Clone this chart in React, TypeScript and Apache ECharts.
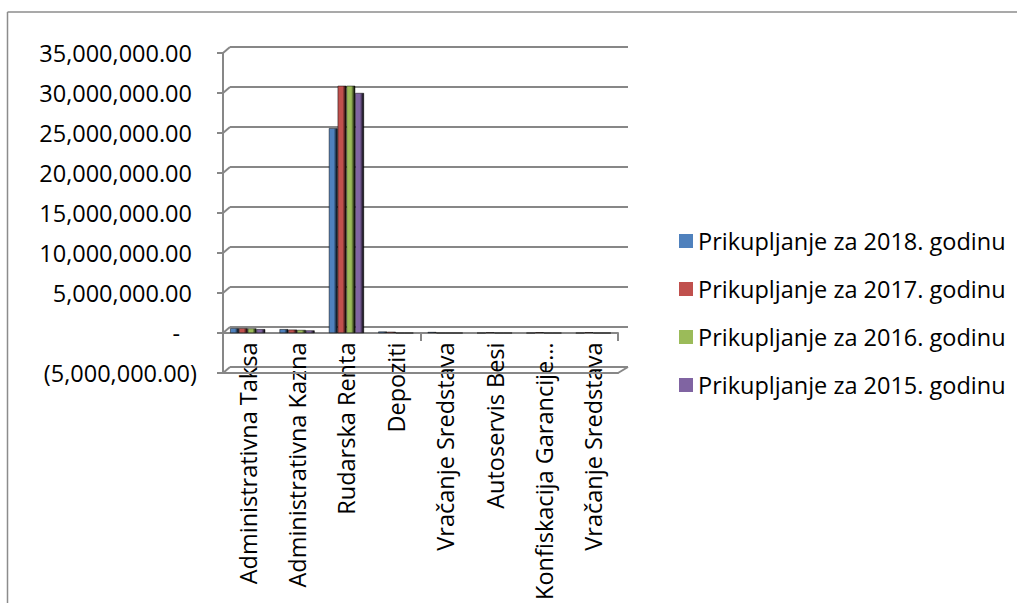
import React, { useEffect, useRef } from "react";
import * as echarts from "echarts";

const categories = [
  "Administrativna Taksa",
  "Administrativna Kazna",
  "Rudarska Renta",
  "Depoziti",
  "Vračanje Sredstava",
  "Autoservis Besi",
  "Konfiskacija Garancije…",
  "Vračanje Sredstava",
];
const seriesNames = [
  "Prikupljanje za 2018. godinu",
  "Prikupljanje za 2017. godinu",
  "Prikupljanje za 2016. godinu",
  "Prikupljanje za 2015. godinu",
];
const s2018 = [600000, 480000, 25600000, 180000, 120000, 0, 0, 0];
const s2017 = [600000, 420000, 30900000, 150000, 0, 80000, 90000, 90000];
const s2016 = [570000, 380000, 30900000, 0, 0, 0, 0, 0];
const s2015 = [480000, 320000, 30000000, 0, 0, 0, 0, 0];
const colors = ["#4F81BD", "#C0504D", "#9BBB59", "#8064A2"];
const yTicks = [-5000000, 0, 5000000, 10000000, 15000000, 20000000, 25000000, 30000000, 35000000];

const FONT = "Open Sans";
const GRID_COLOR = "#878787";
const FS = 23.5;

const FRONT_LEFT = 223;
const FRONT_WIDTH = 395;
const BACK_LEFT = 230;
const BACK_WIDTH = 398;

function fmtLabel(v: number): string {
  if (v === 0) return "{z|-}";
  const s = Math.abs(v).toLocaleString("en-US", { minimumFractionDigits: 2, maximumFractionDigits: 2 });
  return v < 0 ? "{n|(" + s + ")}" : "{p|" + s + "}";
}

export default function App() {
  const ref = useRef<HTMLDivElement>(null);
  useEffect(() => {
    if (!ref.current) return;
    const chart = echarts.init(ref.current, undefined, { renderer: "svg" });
    const data = [s2018, s2017, s2016, s2015];
    const txt = { fontFamily: FONT, fontSize: FS, color: "#000" };
    const option: any = {
      animation: false,
      backgroundColor: "#ffffff",
      textStyle: { fontFamily: FONT },
      grid: [
        { left: FRONT_LEFT, top: 53, width: FRONT_WIDTH, height: 320 },
        { left: BACK_LEFT, top: 47, width: BACK_WIDTH, height: 320 },
        { left: FRONT_LEFT, top: 53, width: FRONT_WIDTH, height: 278 },
      ],
      legend: {
        orient: "vertical",
        left: 674,
        top: 224,
        itemWidth: 14,
        itemHeight: 14,
        itemGap: 24,
        icon: "rect",
        itemStyle: { borderWidth: 0 },
        data: seriesNames.map((n, i) => ({ name: n, itemStyle: { color: colors[i], borderWidth: 0 } })),
        textStyle: { fontFamily: FONT, fontSize: FS, color: "#000", lineHeight: 24, padding: [0, 0, 0, 0] },
      },
      xAxis: [
        {
          type: "category",
          gridIndex: 0,
          data: categories,
          axisLine: { onZero: true, lineStyle: { color: GRID_COLOR, width: 2 } },
          axisTick: { show: true, length: 8, lineStyle: { color: GRID_COLOR, width: 2 } },
          axisLabel: { show: false },
          z: 1,
        },
        {
          type: "category",
          gridIndex: 0,
          position: "bottom",
          data: categories,
          axisLine: { onZero: false, lineStyle: { color: GRID_COLOR, width: 2 } },
          axisTick: { show: false },
          axisLabel: { show: false },
          z: 5,
        },
        {
          type: "category",
          gridIndex: 1,
          data: categories,
          show: false,
        },
        {
          type: "category",
          gridIndex: 2,
          position: "bottom",
          data: categories,
          axisLine: { show: false, onZero: false },
          axisTick: { show: false },
          axisLabel: {
            rotate: 90,
            interval: 0,
            margin: 14,
            ...txt,
          },
          z: 0,
        },
      ],
      yAxis: [
        {
          type: "value",
          gridIndex: 0,
          min: -5000000,
          max: 35000000,
          interval: 5000000,
          axisLine: { show: true, lineStyle: { color: GRID_COLOR, width: 2 } },
          axisTick: { show: true, length: 6, lineStyle: { color: GRID_COLOR, width: 2 } },
          splitLine: { show: false },
          axisLabel: {
            margin: 26,
            ...txt,
            formatter: fmtLabel,
            rich: {
              p: { ...txt, padding: [0, 5, 0, 0] },
              n: { ...txt },
              z: { ...txt, padding: [0, 17, 0, 0] },
            },
          },
        },
        {
          type: "value",
          gridIndex: 1,
          min: -5000000,
          max: 35000000,
          interval: 5000000,
          axisLine: { show: false },
          axisTick: { show: false },
          axisLabel: { show: false },
          splitLine: { show: true, lineStyle: { color: GRID_COLOR, width: 2 } },
        },
        {
          type: "value",
          gridIndex: 2,
          min: 0,
          max: 35000000,
          show: false,
        },
      ],
      series: seriesNames.map((name, i) => ({
        name,
        type: "bar",
        xAxisIndex: 0,
        yAxisIndex: 0,
        data: data[i],
        barGap: "0%",
        barCategoryGap: "29%",
        z: 3,
        itemStyle: {
          color: new echarts.graphic.LinearGradient(0, 0, 1, 0, [
            { offset: 0, color: colors[i] },
            { offset: 0.55, color: colors[i] },
            { offset: 1, color: echarts.color.modifyHSL(colors[i], undefined, undefined, -0.08) as string },
          ]),
          borderColor: echarts.color.modifyHSL(colors[i], undefined, undefined, -0.15) as string,
          borderWidth: 0.5,
        },
      })),
    };
    chart.setOption(option);

    // decorative 3D connectors between the front axis and the back wall
    const lines: any[] = [];
    yTicks.forEach((v) => {
      const yf = chart.convertToPixel({ yAxisIndex: 0 }, v) as number;
      const yb = chart.convertToPixel({ yAxisIndex: 1 }, v) as number;
      lines.push({
        type: "line",
        shape: { x1: FRONT_LEFT, y1: yf, x2: BACK_LEFT, y2: yb },
        style: { stroke: GRID_COLOR, lineWidth: 2 },
        z: 10,
      });
    });
    const yfBot = chart.convertToPixel({ yAxisIndex: 0 }, -5000000) as number;
    const ybBot = chart.convertToPixel({ yAxisIndex: 1 }, -5000000) as number;
    lines.push({
      type: "line",
      shape: { x1: FRONT_LEFT + FRONT_WIDTH, y1: yfBot, x2: BACK_LEFT + BACK_WIDTH, y2: ybBot },
      style: { stroke: GRID_COLOR, lineWidth: 2 },
      z: 10,
    });
    lines.push({
      type: "line",
      shape: { x1: 7.5, y1: 12, x2: 1017, y2: 12 },
      style: { stroke: "#8c8c8c", lineWidth: 1.5 },
    });
    lines.push({
      type: "line",
      shape: { x1: 7.5, y1: 12, x2: 7.5, y2: 603 },
      style: { stroke: "#8c8c8c", lineWidth: 1.5 },
    });
    chart.setOption({ graphic: lines });
    return () => chart.dispose();
  }, []);
  return (
    <div
      ref={ref}
      style={{ position: "absolute", left: 0, top: 0, width: 1017, height: 603, background: "#fff" }}
    />
  );
}
